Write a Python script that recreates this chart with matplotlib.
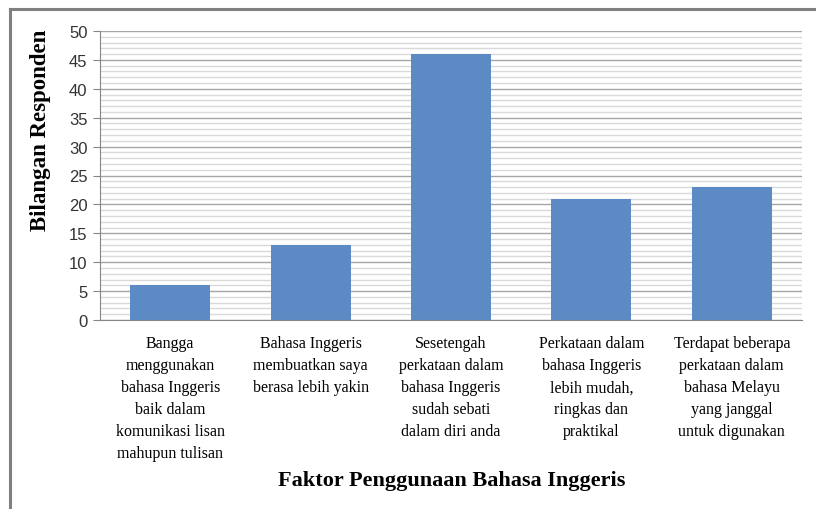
import numpy as np
import matplotlib
matplotlib.use('Agg')
import matplotlib.pyplot as plt
from matplotlib.lines import Line2D
from matplotlib.ticker import MultipleLocator

categories = [
    'Bangga\nmenggunakan\nbahasa Inggeris\nbaik dalam\nkomunikasi lisan\nmahupun tulisan',
    'Bahasa Inggeris\nmembuatkan saya\nberasa lebih yakin',
    'Sesetengah\nperkataan dalam\nbahasa Inggeris\nsudah sebati\ndalam diri anda',
    'Perkataan dalam\nbahasa Inggeris\nlebih mudah,\nringkas dan\npraktikal',
    'Terdapat beberapa\nperkataan dalam\nbahasa Melayu\nyang janggal\nuntuk digunakan',
]
responden = [6, 13, 46, 21, 23]

fig = plt.figure(figsize=(8.16, 5.1), dpi=100)
ax = fig.add_axes([100 / 816, 1 - 321 / 510, 702 / 816, 289 / 510])

# outer chart frame (only left and top edges fall inside the picture)
fx, fy = 9.5 / 816, 1 - 10 / 510
fig.lines.append(Line2D([fx, fx], [0, fy], transform=fig.transFigure,
                        color='#7f7f7f', linewidth=2.2))
fig.lines.append(Line2D([fx, 1], [fy, fy], transform=fig.transFigure,
                        color='#7f7f7f', linewidth=2.2))

x = np.arange(len(categories))
ax.bar(x, responden, width=0.57, color='#5B8AC5', zorder=3)

ax.set_xlim(-0.5, len(categories) - 0.5)
ax.set_ylim(0, 50)
ax.yaxis.set_major_locator(MultipleLocator(5))
ax.yaxis.set_minor_locator(MultipleLocator(1))
ax.grid(axis='y', which='minor', color='#d9d9d9', linewidth=1.0, zorder=0)
ax.grid(axis='y', which='major', color='#a6a6a6', linewidth=1.0, zorder=1)

for s in ('top', 'right'):
    ax.spines[s].set_visible(False)
for s in ('left', 'bottom'):
    ax.spines[s].set_color('#868686')
    ax.spines[s].set_zorder(4)

ax.tick_params(axis='y', which='major', length=5, color='#868686',
               labelsize=12, labelcolor='#333333', pad=4)
ax.tick_params(axis='y', which='minor', length=0)
for lab in ax.get_yticklabels():
    lab.set_family('Liberation Sans')

ax.set_xticks(x)
ax.set_xticklabels(categories, family='Liberation Serif', fontsize=11.5,
                   linespacing=1.5, va='top')
ax.tick_params(axis='x', which='major', length=0, pad=11)

fig.text(452 / 816, 1 - 481 / 510, 'Faktor Penggunaan Bahasa Inggeris',
         family='Liberation Serif', fontweight='bold', fontsize=16,
         ha='center', va='center')
fig.text(41 / 816, 1 - 130 / 510, 'Bilangan Responden',
         family='Liberation Serif', fontweight='bold', fontsize=16.5,
         rotation=90, ha='center', va='center')

fig.savefig('out.png', dpi=100)
